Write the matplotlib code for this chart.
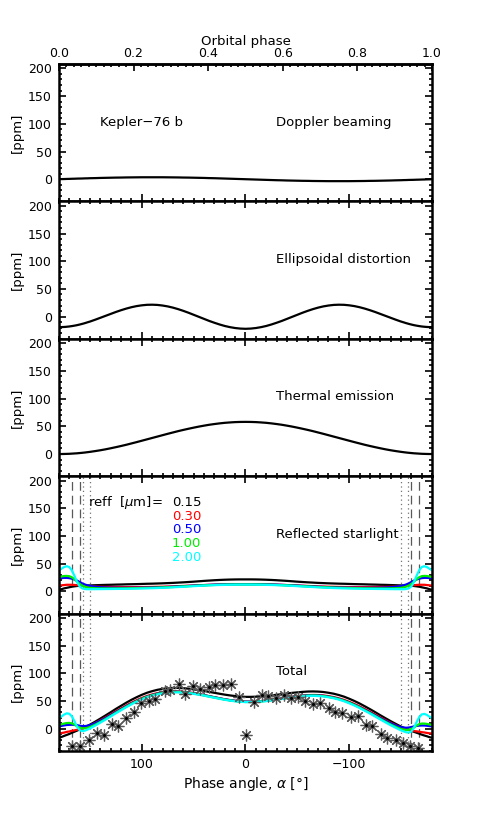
import numpy as np
import matplotlib
matplotlib.use("Agg")
import matplotlib.pyplot as plt
from matplotlib.ticker import MultipleLocator

# ---------------- data ----------------
# phase angle grid (deg) for the alpha >= 0 half; the models are mirrored for alpha < 0
alpha_half = [180, 177.5, 175, 172.5, 170, 167.5, 165, 162.5, 160, 157.5, 155, 152.5, 150,
              145, 140, 135, 130, 125, 120, 115, 110, 105, 100, 95, 90, 85, 80, 75, 70,
              65, 60, 55, 50, 45, 40, 35, 30, 25, 20, 15, 10, 5, 0]

# Doppler beaming (positive for alpha > 0, negative for alpha < 0)
doppler_half = [0.0, 0.2, 0.3, 0.5, 0.6, 0.8, 0.9, 1.1, 1.2, 1.3, 1.5, 1.6, 1.8,
                2.0, 2.3, 2.5, 2.7, 2.9, 3.0, 3.2, 3.3, 3.4, 3.5, 3.5, 3.5, 3.5, 3.5, 3.4, 3.3,
                3.2, 3.0, 2.9, 2.7, 2.5, 2.3, 2.0, 1.8, 1.5, 1.2, 0.9, 0.6, 0.3, 0.0]
# Ellipsoidal distortion
ellip_half = [-19.0, -18.9, -18.7, -18.3, -17.8, -17.1, -16.3, -15.4, -14.3, -13.1, -11.8, -10.3, -8.9,
              -5.6, -2.1, 1.4, 4.9, 8.4, 11.6, 14.5, 17.0, 19.0, 20.4, 21.3, 21.5, 21.1, 20.0, 18.4, 16.2,
              13.5, 10.4, 7.0, 3.3, -0.4, -4.1, -7.8, -11.1, -14.2, -16.9, -19.0, -20.6, -21.6, -22.0]
# Thermal emission
thermal_half = [0.0, 0.0, 0.1, 0.25, 0.4, 0.7, 1.0, 1.3, 1.75, 2.2, 2.7, 3.3, 3.9,
                5.3, 6.8, 8.5, 10.4, 12.4, 14.5, 16.7, 19.1, 21.5, 24.0, 26.5, 29.0, 31.5, 34.0, 36.5, 38.9,
                41.3, 43.5, 45.6, 47.6, 49.5, 51.2, 52.8, 54.1, 55.3, 56.3, 57.0, 57.6, 57.9, 58.0]
# Reflected starlight for the effective particle radii
reff_labels = ["0.15", "0.30", "0.50", "1.00", "2.00"]
reff_colors = ["black", "red", "blue", "#00ee00", "cyan"]
refl_015 = [3.0, 4.0, 5.5, 6.5, 7.5, 8.5, 9.2, 9.8, 10.2, 10.5, 10.6, 10.7, 10.8,
            11.2, 11.5, 11.8, 12.0, 12.3, 12.5, 12.8, 13.0, 13.2, 13.5, 13.8, 14.0, 14.3, 14.6, 15.0, 15.4,
            15.9, 16.4, 17.0, 17.6, 18.3, 19.0, 19.6, 20.2, 20.7, 21.1, 21.4, 21.6, 21.7, 21.7]
refl_030 = [10.5, 11.0, 11.5, 12.0, 12.0, 12.0, 11.7, 11.2, 10.7, 10.2, 9.8, 9.4, 9.1,
            8.7, 8.4, 8.2, 8.0, 7.9, 7.8, 7.8, 7.8, 7.8, 7.9, 8.0, 8.1, 8.3, 8.5, 8.8, 9.1,
            9.5, 9.9, 10.3, 10.7, 11.1, 11.5, 11.9, 12.2, 12.5, 12.7, 12.9, 13.0, 13.0, 13.0]
refl_050 = [23.5, 24.0, 24.5, 24.5, 24.0, 23.0, 21.5, 19.5, 17.0, 14.5, 12.5, 11.0, 9.8,
            8.4, 7.6, 7.1, 6.8, 6.6, 6.5, 6.5, 6.5, 6.6, 6.7, 6.9, 7.1, 7.4, 7.7, 8.1, 8.5,
            9.0, 9.5, 10.0, 10.5, 11.0, 11.4, 11.8, 12.2, 12.5, 12.7, 12.9, 13.0, 13.0, 13.0]
refl_100 = [26.0, 27.0, 27.8, 28.0, 27.5, 25.5, 22.0, 17.5, 13.5, 10.5, 8.5, 7.2, 6.5,
            5.8, 5.5, 5.4, 5.4, 5.4, 5.5, 5.6, 5.8, 6.0, 6.2, 6.4, 6.6, 6.9, 7.2, 7.6, 8.0,
            8.5, 9.0, 9.5, 10.0, 10.5, 10.9, 11.3, 11.7, 12.0, 12.2, 12.4, 12.5, 12.5, 12.5]
refl_200 = [38.0, 41.0, 44.0, 45.5, 44.0, 38.0, 28.0, 17.0, 9.0, 5.5, 4.3, 4.0, 4.0,
            4.1, 4.2, 4.3, 4.4, 4.5, 4.6, 4.7, 4.9, 5.1, 5.3, 5.5, 5.8, 6.1, 6.5, 6.9, 7.4,
            7.9, 8.4, 9.0, 9.5, 10.0, 10.5, 10.9, 11.3, 11.6, 11.8, 12.0, 12.1, 12.2, 12.2]
refl_half = [refl_015, refl_030, refl_050, refl_100, refl_200]

# Kepler observations (phase angle deg, ppm)
obs_alpha = [167.5, 159.4, 151.4, 143.3, 136.9, 128.8, 123.0, 115.0, 107.9, 100.8,
             93.4, 87.0, 78.0, 72.5, 63.8, 58.0, 51.0, 44.2, 35.5, 29.0, 21.5, 13.8,
             6.5, -0.6, -8.0, -16.0, -22.0, -29.0, -37.0, -43.5, -51.0, -57.0,
             -65.0, -71.8, -80.5, -86.3, -93.4, -101.4, -108.8, -115.9, -122.4,
             -130.4, -136.9, -145.0, -152.0, -158.8, -166.5]
obs_ppm = [-30.7, -30.7, -19.5, -7.0, -10.6, 8.8, 5.8, 19.4, 31.0, 47.0,
           50.0, 54.0, 67.7, 70.7, 80.6, 63.0, 78.0, 71.7, 74.7, 79.5, 79.5, 81.0,
           57.6, -11.8, 48.8, 61.8, 58.8, 54.8, 61.8, 55.8, 57.0, 50.0,
           44.0, 47.0, 38.0, 31.0, 29.4, 20.5, 23.5, 7.6, 4.6,
           -8.8, -16.6, -20.7, -24.7, -30.7, -34.2]

panel_titles = ["Doppler beaming", "Ellipsoidal distortion", "Thermal emission",
                "Reflected starlight", "Total"]
dashed_lines = [167, 160, -160, -167]
dotted_lines = [157, 150, -150, -157]

# ---------------- build full curves ----------------
ah = np.array(alpha_half, float)
alpha = np.concatenate([ah, -ah[-2::-1]])

def sym(v):
    v = np.array(v, float)
    return np.concatenate([v, v[-2::-1]])

def antisym(v):
    v = np.array(v, float)
    return np.concatenate([v, -v[-2::-1]])

doppler = antisym(doppler_half)
ellip = sym(ellip_half)
thermal = sym(thermal_half)
refl = [sym(r) for r in refl_half]
total = [doppler + ellip + thermal + r for r in refl]

# ---------------- figure ----------------
plt.rcParams['font.family'] = ['DejaVu Sans']
fig = plt.figure(figsize=(4.91, 8.17), dpi=100)
gs = fig.add_gridspec(5, 1, left=0.120, right=0.880, bottom=0.0808, top=0.9217, hspace=0)
axes = [fig.add_subplot(gs[i]) for i in range(5)]

LW = 1.6
TFS = 9.5
for i, ax in enumerate(axes):
    ax.set_xlim(180, -180)
    ax.set_ylim(-40, 208)
    ax.set_yticks([0, 50, 100, 150, 200])
    ax.yaxis.set_minor_locator(MultipleLocator(10))
    ax.set_xticks([100, 0, -100])
    ax.xaxis.set_minor_locator(MultipleLocator(10))
    ax.tick_params(which='both', direction='in', top=(i > 0), right=True,
                   labelsize=9, width=1.2)
    ax.tick_params(which='major', length=5, pad=5)
    ax.tick_params(which='minor', length=2.5)
    for s in ax.spines.values():
        s.set_linewidth(1.8)
    ax.set_ylabel('[ppm]', fontsize=9.5, labelpad=3)
    if i < 4:
        ax.tick_params(labelbottom=False)
    ax.text(-29, 103, panel_titles[i], fontsize=TFS, ha='left', va='center')

axes[0].plot(alpha, doppler, color='black', lw=LW)
axes[0].text(140, 103, 'Kepler\u221276 b', fontsize=TFS, ha='left', va='center')
axes[1].plot(alpha, ellip, color='black', lw=LW)
axes[2].plot(alpha, thermal, color='black', lw=LW)

for ax in axes[3:]:
    for a in dashed_lines:
        ax.axvline(a, color='0.35', lw=0.9, ls=(0, (7, 4)))
    for a in dotted_lines:
        ax.axvline(a, color='0.45', lw=0.9, ls=(0, (1, 2.5)))

for r, c in zip(refl, reff_colors):
    axes[3].plot(alpha, r, color=c, lw=LW)
for t, c in zip(total, reff_colors):
    axes[4].plot(alpha, t, color=c, lw=LW)

axes[4].plot(obs_alpha, obs_ppm, ls='none', marker=(8, 2, 0), ms=8.5,
             mec='0.35', mew=0.9, color='0.35')
axes[4].plot(obs_alpha, obs_ppm, ls='none', marker='o', ms=2.2,
             mec='black', mfc='black', mew=0)

# legend text for reff
axes[3].text(152, 160, 'reff  [$\\mu$m]=', fontsize=TFS, ha='left', va='center')
for k, (lab, c) in enumerate(zip(reff_labels, reff_colors)):
    axes[3].text(71, 160 - 24.5 * k, lab, fontsize=TFS, color=c, ha='left', va='center')

axes[4].set_xlabel('Phase angle, $\\alpha$ [\u00b0]', fontsize=10, labelpad=3)

# top axis: orbital phase
sec = axes[0].secondary_xaxis('top', functions=(lambda a: (180 - a) / 360.0,
                                                 lambda p: 180 - 360 * p))
sec.set_xticks([0.0, 0.2, 0.4, 0.6, 0.8, 1.0])
sec.set_xticklabels(['0.0', '0.2', '0.4', '0.6', '0.8', '1.0'])
sec.xaxis.set_minor_locator(MultipleLocator(0.02))
sec.tick_params(which='both', direction='in', labelsize=9, width=1.2)
sec.tick_params(which='major', length=5, pad=3)
sec.tick_params(which='minor', length=2.5)
sec.set_xlabel('Orbital phase', fontsize=9.5, labelpad=1)
sec.spines['top'].set_linewidth(1.8)

fig.savefig('out.png', dpi=100)
